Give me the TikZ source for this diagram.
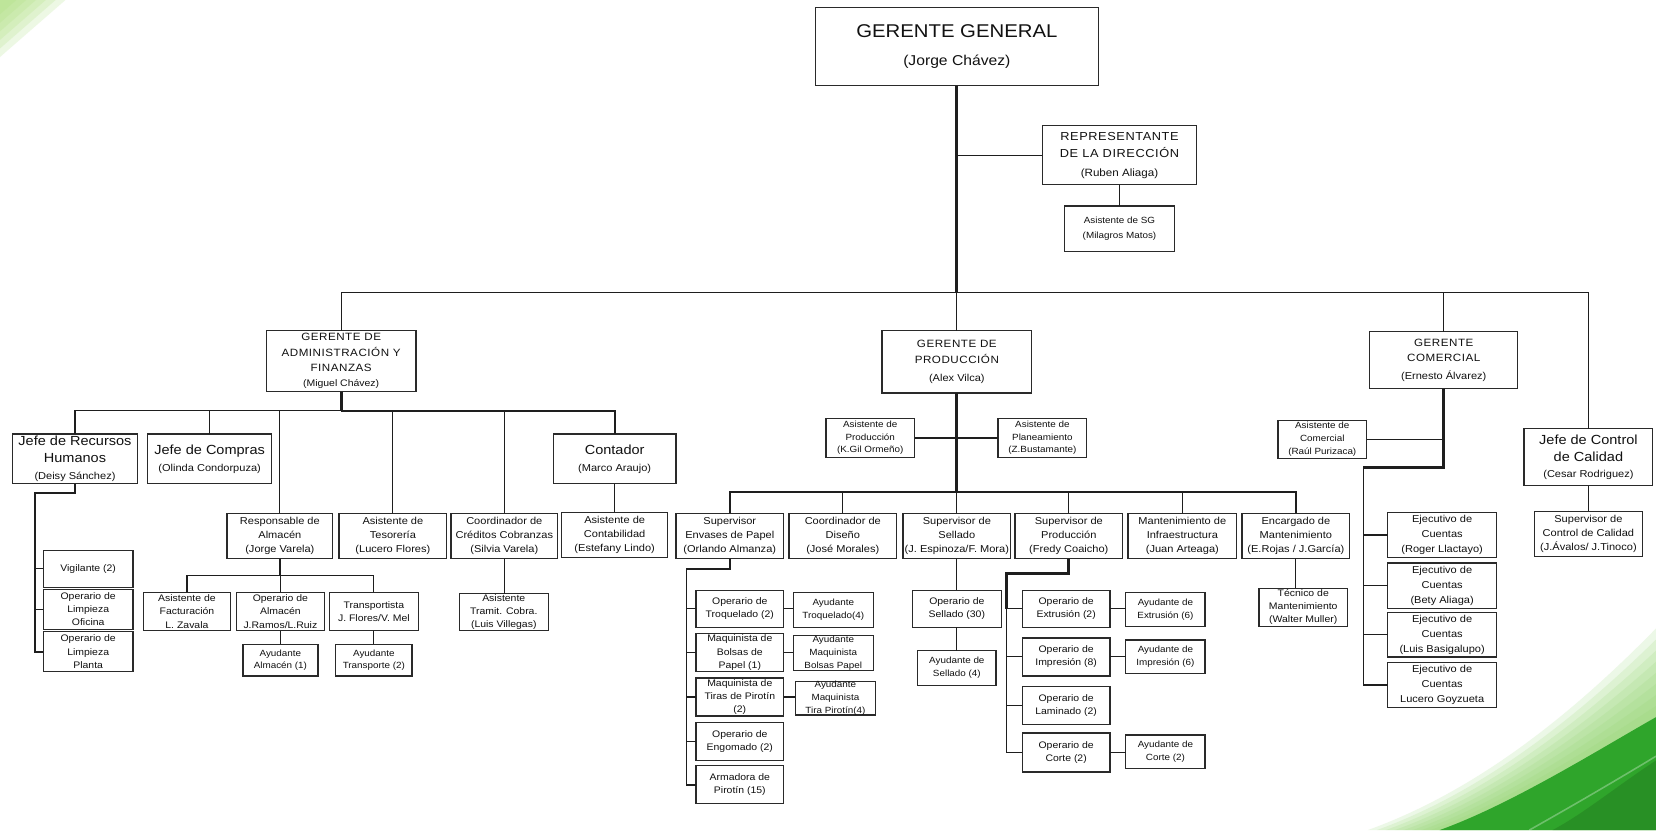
\documentclass[tikz,border=0pt]{standalone}
\usepackage{fontspec}
\setmainfont{Liberation Sans}[FakeStretch=1.1]
\usetikzlibrary{calc}

\definecolor{linec}{HTML}{1E1E1E}
\definecolor{boxc}{HTML}{2A2A2A}
\definecolor{txtc}{HTML}{111111}
\definecolor{halo}{HTML}{8FD46A}
\definecolor{deepg}{HTML}{2FA52B}
\definecolor{cornerg}{HTML}{A8DE78}

\newcommand\fsz[2]{\fontsize{#1}{#2}\selectfont}
\newcommand\spacedcaps{\addfontfeature{LetterSpace=5}}
% \orgbox{name}{x1}{y1}{x2}{y2}{style}{text}
\newcommand\orgbox[7]{%
  \node[box,#6,minimum width={#4-#2},minimum height={#5-#3}] (#1)
    at ({(#2+#4)/2},{(#3+#5)/2}) {#7};}

\tikzset{
  box/.style={draw=boxc,line width=1.2pt,fill=white,inner sep=0pt,outer sep=0pt,align=center,text=txtc},
  sm/.style={font=\fsz{9.5}{13}},
  op/.style={font=\fsz{9}{12.5}},
  ay/.style={font=\fsz{8.5}{12}},
  jefe/.style={font=\fsz{12.5}{16}},
  mgr/.style={font=\fsz{10}{14.5}\spacedcaps},
  conn/.style={draw=linec,line width=1.1pt},
  med/.style={draw=linec,line width=1.7pt},
  spine/.style={draw=linec,line width=2.6pt},
}

\begin{document}
\begin{tikzpicture}[x=1pt,y=-1pt]
\fill[white] (0,0) rectangle (1568,786);
\useasboundingbox (0,0) rectangle (1568,786);

% green corner wash, top left
\foreach \s in {1,0.85,0.7,0.55,0.4,0.25}
  \fill[cornerg,opacity=0.2] (0,0) -- ({62*\s},0) -- (0,{54*\s}) -- cycle;

% green swoosh, bottom right
\foreach \t in {0,0.125,0.25,0.375,0.5,0.625,0.75,0.875}
  \fill[halo,opacity=0.16] (1568,{595+84*\t}) .. controls ({1485+25*\t},{680+32*\t}) and ({1395+35*\t},{750+12*\t}) .. ({1295+68*\t},786) -- (1568,786) -- cycle;
\fill[deepg] (1568,679) .. controls (1510,712) and (1430,762) .. (1363,786) -- (1568,786) -- cycle;
\fill[black!25!deepg,opacity=0.5] (1568,720) .. controls (1530,745) and (1500,770) .. (1470,786) -- (1568,786) -- cycle;
\draw[white,opacity=0.3,line width=1.5pt] (1568,716) .. controls (1520,745) and (1480,768) .. (1448,786);

% ---- top level
\orgbox{gg}{772}{7}{1040}{81}{font=\fsz{17.5}{21}}{GERENTE GENERAL\\[6pt]{\fsz{13.5}{16}(Jorge Chávez)}}
\orgbox{rep}{987}{119}{1133}{175}{font=\fsz{11}{16}\spacedcaps}{REPRESENTANTE\\DE LA DIRECCIÓN\\[2pt]{\addfontfeature{LetterSpace=0}\fsz{10}{12}(Ruben Aliaga)}}
\orgbox{asg}{1008}{195}{1112}{238}{font=\fsz{8.5}{14}}{Asistente de SG\\(Milagros Matos)}

\orgbox{adm}{252}{313}{394}{371}{mgr}{GERENTE DE\\ADMINISTRACIÓN Y\\FINANZAS\\{\addfontfeature{LetterSpace=0}\fsz{9}{12}(Miguel Chávez)}}
\orgbox{prod}{835}{313}{977}{372}{font=\fsz{10}{15.5}\spacedcaps}{GERENTE DE\\PRODUCCIÓN\\[1pt]{\addfontfeature{LetterSpace=0}\fsz{9.5}{12}(Alex Vilca)}}
\orgbox{com}{1297}{314}{1437}{368}{font=\fsz{10}{14}\spacedcaps}{GERENTE\\COMERCIAL\\[3pt]{\addfontfeature{LetterSpace=0}\fsz{9.5}{12}(Ernesto Álvarez)}}
\orgbox{ccal}{1443}{406}{1565}{460}{jefe}{Jefe de Control\\de Calidad\\{\fsz{9.5}{12}(Cesar Rodriguez)}}

% ---- administración y finanzas
\orgbox{rrhh}{12}{411}{130}{458}{jefe}{Jefe de Recursos\\Humanos\\{\fsz{9.5}{12}(Deisy Sánchez)}}
\orgbox{compras}{140}{411}{257}{458}{jefe}{Jefe de Compras\\{\fsz{9.5}{12}(Olinda Condorpuza)}}
\orgbox{cont}{524}{411}{640}{458}{jefe}{Contador\\{\fsz{9.5}{12}(Marco Araujo)}}
\orgbox{alm}{215}{486}{315}{529}{sm}{Responsable de\\Almacén\\(Jorge Varela)}
\orgbox{teso}{321}{486}{423}{529}{sm}{Asistente de\\Tesorería\\(Lucero Flores)}
\orgbox{cred}{427}{486}{528}{529}{sm}{Coordinador de\\Créditos Cobranzas\\(Silvia Varela)}
\orgbox{acont}{532}{485}{632}{528}{sm}{Asistente de\\Contabilidad\\(Estefany Lindo)}
\orgbox{vig}{41}{521}{126}{556}{op}{Vigilante (2)}
\orgbox{ofi}{41}{558}{126}{596}{op}{Operario de\\Limpieza\\Oficina}
\orgbox{planta}{41}{598}{126}{636}{op}{Operario de\\Limpieza\\Planta}
\orgbox{fact}{136}{561}{218}{597}{op}{Asistente de\\Facturación\\L. Zavala}
\orgbox{opalm}{224}{561}{307}{597}{op}{Operario de\\Almacén\\J.Ramos/L.Ruiz}
\orgbox{transp}{312}{561}{396}{597}{op}{Transportista\\J. Flores/V. Mel}
\orgbox{ayalm}{230}{610}{301}{640}{ay}{Ayudante\\Almacén (1)}
\orgbox{aytr}{318}{610}{390}{640}{ay}{Ayudante\\Transporte (2)}
\orgbox{tramit}{435}{562}{519}{597}{font=\fsz{9}{12.5}}{Asistente\\Tramit. Cobra.\\(Luis Villegas)}

% ---- producción
\orgbox{aprod}{782}{396}{866}{433}{ay}{Asistente de\\Producción\\(K.Gil Ormeño)}
\orgbox{aplan}{945}{396}{1029}{433}{ay}{Asistente de\\Planeamiento\\(Z.Bustamante)}
\orgbox{senv}{640}{486}{742}{529}{sm}{Supervisor\\Envases de Papel\\(Orlando Almanza)}
\orgbox{dis}{747}{486}{849}{529}{sm}{Coordinador de\\Diseño\\(José Morales)}
\orgbox{sell}{855}{486}{957}{529}{sm}{Supervisor de\\Sellado\\(J. Espinoza/F. Mora)}
\orgbox{supprod}{961}{486}{1063}{529}{sm}{Supervisor de\\Producción\\(Fredy Coaicho)}
\orgbox{minf}{1068}{486}{1171}{529}{sm}{Mantenimiento de\\Infraestructura\\(Juan Arteaga)}
\orgbox{emant}{1176}{486}{1278}{529}{sm}{Encargado de\\Mantenimiento\\(E.Rojas / J.García)}
\orgbox{tec}{1192}{557}{1276}{593}{op}{Técnico de\\Mantenimiento\\(Walter Muller)}

\orgbox{trq}{659}{559}{742}{594}{op}{Operario de\\Troquelado (2)}
\orgbox{mbol}{659}{600}{742}{636}{op}{Maquinista de\\Bolsas de\\Papel (1)}
\orgbox{mtir}{659}{642}{742}{678}{op}{Maquinista de\\Tiras de Pirotín\\(2)}
\orgbox{eng}{659}{684}{742}{720}{op}{Operario de\\Engomado (2)}
\orgbox{arm}{659}{725}{742}{761}{op}{Armadora de\\Pirotín (15)}
\orgbox{aytrq}{751}{561}{827}{594}{ay}{Ayudante\\Troquelado(4)}
\orgbox{aymbol}{751}{602}{827}{635}{ay}{Ayudante\\Maquinista\\Bolsas Papel}
\orgbox{aymtir}{753}{645}{829}{677}{ay}{Ayudante\\Maquinista\\Tira Pirotín(4)}

\orgbox{opsell}{864}{559}{948}{594}{op}{Operario de\\Sellado (30)}
\orgbox{aysell}{869}{616}{943}{649}{ay}{Ayudante de\\Sellado (4)}

\orgbox{ext}{968}{559}{1051}{594}{op}{Operario de\\Extrusión (2)}
\orgbox{imp}{968}{604}{1051}{640}{op}{Operario de\\Impresión (8)}
\orgbox{lam}{968}{650}{1051}{686}{op}{Operario de\\Laminado (2)}
\orgbox{cor}{968}{694}{1051}{731}{op}{Operario de\\Corte (2)}
\orgbox{ayext}{1066}{561}{1141}{593}{ay}{Ayudante de\\Extrusión (6)}
\orgbox{ayimp}{1066}{606}{1141}{638}{ay}{Ayudante de\\Impresión (6)}
\orgbox{aycor}{1066}{696}{1141}{728}{ay}{Ayudante de\\Corte (2)}

% ---- comercial y calidad
\orgbox{acom}{1210}{398}{1294}{434}{ay}{Asistente de\\Comercial\\(Raúl Purizaca)}
\orgbox{ej1}{1314}{485}{1417}{528}{font=\fsz{9.5}{14}}{Ejecutivo de\\Cuentas\\(Roger Llactayo)}
\orgbox{ej2}{1314}{533}{1417}{576}{font=\fsz{9.5}{14}}{Ejecutivo de\\Cuentas\\(Bety Aliaga)}
\orgbox{ej3}{1314}{580}{1417}{622}{font=\fsz{9.5}{14}}{Ejecutivo de\\Cuentas\\(Luis Basigalupo)}
\orgbox{ej4}{1314}{627}{1417}{670}{font=\fsz{9.5}{14}}{Ejecutivo de\\Cuentas\\Lucero Goyzueta}
\orgbox{sccal}{1453}{484}{1555}{527}{sm}{Supervisor de\\Control de Calidad\\(J.Ávalos/ J.Tinoco)}

% ---- connectors
\coordinate (topbus) at (906,277);
\draw[spine] (gg.south) -- (gg.south |- topbus);
\draw[conn] (rep.west) -- (rep.west -| gg.south);
\draw[conn] (rep.south) -- (asg.north);
\draw[conn] (adm.north) |- (ccal.north |- topbus) -- (ccal.north);
\draw[conn] (prod.north) -- (prod.north |- topbus);
\draw[conn] (com.north) -- (com.north |- topbus);

% administración
\coordinate (admbus) at (323,389);
\draw[spine] (adm.south) -- (adm.south |- admbus);
\draw[conn] (rrhh.north) |- (admbus);
\draw[med] (admbus) -| (cont.north);
\draw[conn] (compras.north) -- (compras.north |- admbus);
\draw[conn] (alm.north) -- (alm.north |- admbus);
\draw[conn] (teso.north) -- (teso.north |- admbus);
\draw[conn] (cred.north) -- (cred.north |- admbus);
\draw[conn] (cont.south) -- (cont.south |- acont.north);
\coordinate (rl) at (33,467);
\draw[med] (rrhh.south) |- (rl) -- (rl |- planta.west) -- (planta.west);
\draw[conn] (rl |- vig.west) -- (vig.west);
\draw[conn] (rl |- ofi.west) -- (ofi.west);
\coordinate (almbus) at (265,545);
\draw[med] (alm.south) -- (alm.south |- almbus);
\draw[conn] (fact.north) |- (transp.north |- almbus) -- (transp.north);
\draw[conn] (opalm.north) -- (opalm.north |- almbus);
\draw[conn] (opalm.south) -- (opalm.south |- ayalm.north);
\draw[conn] (transp.south) -- (transp.south |- aytr.north);
\draw[conn] (cred.south) -- (cred.south |- tramit.north);

% producción
\coordinate (prodbus) at (906,466);
\draw[spine] (prod.south) -- (prod.south |- prodbus);
\draw[med] (aprod.east) -- (aprod.east -| aplan.west);
\draw[med] (senv.north) |- (emant.north |- prodbus) -- (emant.north);
\draw[conn] (dis.north) -- (dis.north |- prodbus);
\draw[conn] (sell.north) -- (sell.north |- prodbus);
\draw[conn] (supprod.north) -- (supprod.north |- prodbus);
\draw[conn] (minf.north) -- (minf.north |- prodbus);
\draw[conn] (emant.south) -- (emant.south |- tec.north);

\coordinate (el) at (650,539);
\draw[med] (senv.south) |- (el) -- (el |- arm.west) -- (arm.west);
\foreach \b in {trq,mbol,mtir,eng} \draw[conn] (el |- \b.west) -- (\b.west);
\draw[conn] (trq.east) -- (trq.east -| aytrq.west);
\draw[conn] (mbol.east) -- (mbol.east -| aymbol.west);
\draw[conn] (mtir.east) -- (mtir.east -| aymtir.west);

\draw[conn] (sell.south) -- (opsell.north);
\draw[conn] (opsell.south) -- (aysell.north);

\coordinate (pl) at (953,543);
\draw[spine] (supprod.south) |- (pl) -- (pl |- ext.west);
\draw[med] (pl |- ext.west) -- (pl |- cor.west) -- (cor.west);
\foreach \b in {ext,imp,lam} \draw[conn] (pl |- \b.west) -- (\b.west);
\draw[conn] (ext.east) -- (ext.east -| ayext.west);
\draw[conn] (imp.east) -- (imp.east -| ayimp.west);
\draw[conn] (cor.east) -- (cor.east -| aycor.west);

% comercial
\coordinate (cl) at (1291,443);
\draw[spine] (com.south) |- (cl);
\draw[conn] (acom.east) -- (acom.east -| com.south);
\draw[med] (cl) -- (cl |- ej4.west) -- (ej4.west);
\foreach \b in {ej1,ej2,ej3} \draw[conn] (cl |- \b.west) -- (\b.west);
\draw[conn] (ccal.south) -- (sccal.north);
\end{tikzpicture}
\end{document}
